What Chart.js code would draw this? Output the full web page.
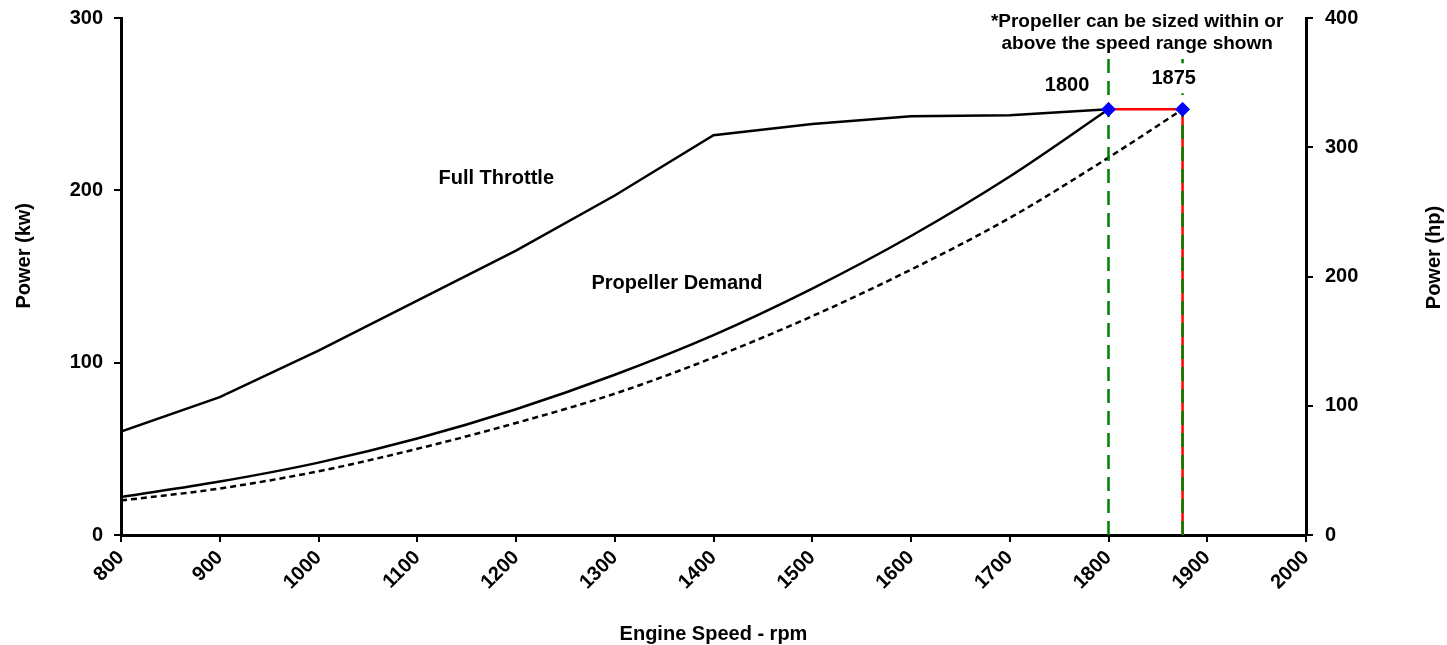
<!DOCTYPE html>
<html>
<head>
<meta charset="utf-8">
<script src="https://cdn.jsdelivr.net/npm/chart.js@4"></script>
<style>
  html, body { margin: 0; padding: 0; background: #fff; }
  #wrap { width: 1447px; height: 645px; }
</style>
</head>
<body>
<div id="wrap"><canvas id="chart" width="1447" height="645"></canvas></div>
<script>
// engine speed (rpm) for the full throttle / propeller demand curves
const rpm = [800, 900, 1000, 1100, 1200, 1300, 1400, 1500, 1600, 1700, 1800];
const fullThrottle = [60, 80, 107, 136, 165, 197, 232, 238.5, 243, 243.5, 247];
const propDemand = [22, 31, 42, 56, 73, 93, 116, 143, 173.5, 208, 247];

// dashed propeller curve sized for 1875 rpm
const rpmDashed = [800, 900, 1000, 1100, 1200, 1300, 1400, 1500, 1600, 1700, 1800, 1875];
const propDashed = [20, 27, 37, 50, 65, 82, 103, 127, 154, 184, 219, 247];

// rated points
const ratedRpm = [1800, 1875];
const ratedPower = [247, 247];

const xTicks = [800, 900, 1000, 1100, 1200, 1300, 1400, 1500, 1600, 1700, 1800, 1900, 2000];

const FONT = 'Liberation Sans, Arial, sans-serif';

const pts = (xs, ys) => xs.map((x, i) => ({ x: x, y: ys[i] }));

// text labels, positioned in data units
const labels = [
    { x: 1180, y: 207, lines: ['Full Throttle'] },
    { x: 1363, y: 146, lines: ['Propeller Demand'] },
    { x: 1758, y: 261, lines: ['1800'] },
    { x: 1866, y: 265, lines: ['1875'], bg: true },
    { x: 1829, y: 291.5, lines: ['*Propeller can be sized within or', 'above the speed range shown'], bg: true, size: 19, lh: 22, pad: 1 },
];

const textPlugin = {
    id: 'textLabels',
    afterDatasetsDraw(chart) {
        const ctx = chart.ctx;
        const xs = chart.scales.x, ys = chart.scales.y;
        ctx.save();
        labels.forEach(l => {
            const size = l.size || 20;
            const lh = l.lh || 22;
            const pad = l.pad === undefined ? 4 : l.pad;
            ctx.font = 'bold ' + size + 'px ' + FONT;
            ctx.textAlign = 'center';
            ctx.textBaseline = 'middle';
            const cx = xs.getPixelForValue(l.x);
            const cy = ys.getPixelForValue(l.y);
            const h = lh * l.lines.length;
            const top = cy - h / 2;
            if (l.bg) {
                const w = Math.max(...l.lines.map(s => ctx.measureText(s).width)) + 8;
                ctx.fillStyle = '#fff';
                ctx.fillRect(cx - w / 2, top - pad, w, h + pad * 2);
            }
            ctx.fillStyle = '#000';
            l.lines.forEach((s, i) => ctx.fillText(s, cx, top + lh * i + lh / 2));
        });

        // both axis titles read bottom to top, a little above the middle
        const drawTitle = (text, x, y) => {
            ctx.save();
            ctx.font = 'bold 20px ' + FONT;
            ctx.translate(x, y);
            ctx.rotate(-Math.PI / 2);
            ctx.fillText(text, 0, 0);
            ctx.restore();
        };
        drawTitle('Power (kw)', 24, ys.getPixelForValue(162));
        drawTitle('Power (hp)', 1434, ys.getPixelForValue(161));
        ctx.restore();
    }
};

const tickFont = { family: FONT, size: 20, weight: 'bold' };
const axisGrid = { drawOnChartArea: false, drawTicks: true, tickLength: 7, color: '#000', lineWidth: 2 };

const ctx = document.getElementById('chart').getContext('2d');

new Chart(ctx, {
    type: 'line',
    data: {
        datasets: [
            {
                // blue diamond markers
                data: pts(ratedRpm, ratedPower),
                showLine: false,
                pointStyle: 'rectRot',
                pointRadius: 7,
                pointBackgroundColor: '#0000ff',
                pointBorderColor: '#0000ff',
            },
            {
                data: pts([1800, 1800], [0, 300]),
                borderColor: '#008000',
                borderWidth: 2.5,
                borderDash: [14, 8],
                pointRadius: 0,
            },
            {
                data: pts([1875, 1875], [0, 300]),
                borderColor: '#008000',
                borderWidth: 2.5,
                borderDash: [14, 8],
                pointRadius: 0,
            },
            {
                // red rated line
                data: pts([1800, 1875, 1875], [247, 247, 0]),
                borderColor: '#ff0000',
                borderWidth: 2.5,
                pointRadius: 0,
            },
            {
                data: pts(rpm, fullThrottle),
                borderColor: '#000',
                borderWidth: 2.5,
                pointRadius: 0,
            },
            {
                data: pts(rpm, propDemand),
                borderColor: '#000',
                borderWidth: 2.5,
                pointRadius: 0,
                cubicInterpolationMode: 'monotone',
            },
            {
                data: pts(rpmDashed, propDashed),
                borderColor: '#000',
                borderWidth: 2.5,
                borderDash: [6, 4],
                pointRadius: 0,
                cubicInterpolationMode: 'monotone',
            },
        ],
    },
    options: {
        responsive: false,
        animation: false,
        layout: { padding: { top: 18, left: 0, right: 0, bottom: 0 } },
        plugins: {
            legend: { display: false },
            tooltip: { enabled: false },
        },
        scales: {
            x: {
                type: 'linear',
                min: 800,
                max: 2000,
                afterBuildTicks: s => { s.ticks = xTicks.map(v => ({ value: v })); },
                afterFit: s => { s.height = 110; },
                border: { color: '#000', width: 3 },
                grid: axisGrid,
                ticks: {
                    minRotation: 45,
                    maxRotation: 45,
                    padding: 4,
                    color: '#000',
                    font: tickFont,
                    callback: v => String(v),
                },
                title: {
                    display: true,
                    text: 'Engine Speed - rpm',
                    color: '#000',
                    padding: { top: 0, bottom: -1 },
                    font: { family: FONT, size: 20, weight: 'bold' },
                },
            },
            y: {
                position: 'left',
                min: 0,
                max: 300,
                afterFit: s => { s.width = 121; s.paddingTop = 0; s.paddingBottom = 0; },
                border: { color: '#000', width: 3 },
                grid: axisGrid,
                ticks: {
                    stepSize: 100,
                    padding: 11,
                    color: '#000',
                    font: tickFont,
                },
                title: { display: false },
            },
            y2: {
                position: 'right',
                min: 0,
                max: 400,
                afterFit: s => { s.width = 141; s.paddingTop = 0; s.paddingBottom = 0; },
                border: { color: '#000', width: 3 },
                grid: axisGrid,
                ticks: {
                    stepSize: 100,
                    padding: 12,
                    color: '#000',
                    font: tickFont,
                },
                title: { display: false },
            },
        },
    },
    plugins: [textPlugin],
});
</script>
</body>
</html>
